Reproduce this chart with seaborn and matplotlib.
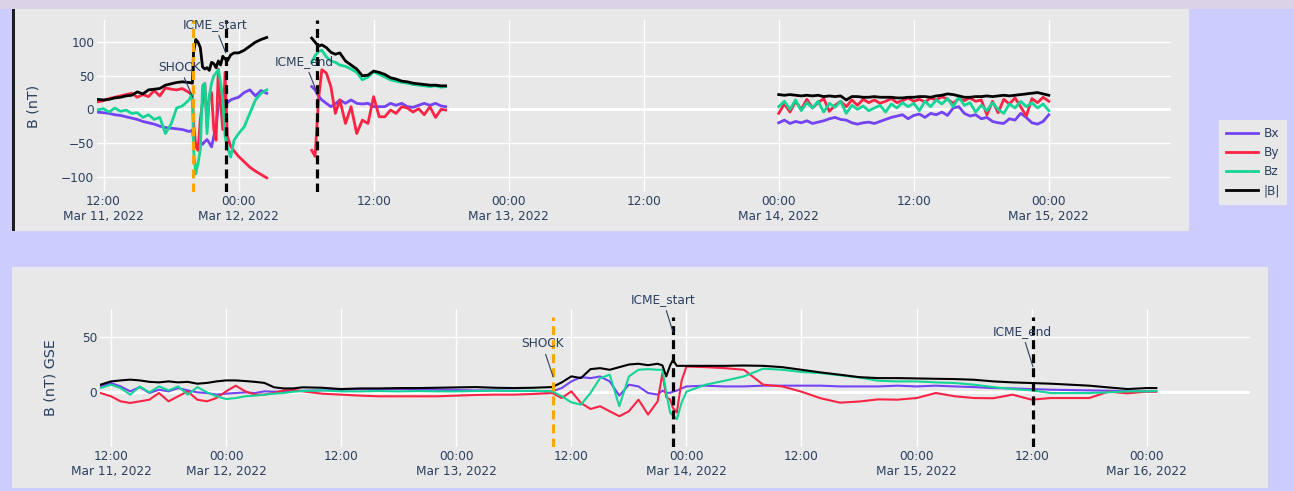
import numpy as np
import pandas as pd
import matplotlib
matplotlib.use('Agg')
import matplotlib.pyplot as plt
import matplotlib.dates as mdates
from matplotlib.patches import Rectangle
from matplotlib.lines import Line2D
from matplotlib.ticker import FixedLocator, FuncFormatter
import seaborn as sns

# ---------------- data ----------------
T0 = pd.Timestamp('2022-03-11 12:00')   # hours below are counted from here
components = ['Bx', 'By', 'Bz', '|B|']

# top panel: three data segments (gaps between them)
top_h1 = [-0.6, 0, 0.5, 1, 1.5, 2, 2.5, 3, 3.5, 4, 4.5, 5, 5.5, 6, 6.5, 7, 7.6,
          7.9, 8.0, 8.2, 8.4, 8.6, 8.8, 9.0, 9.2, 9.4, 9.6,
          9.8, 10.0, 10.2, 10.4, 10.6, 10.8, 11.0, 11.3, 11.6, 12.0, 12.5, 13.0, 13.5, 14.0, 14.5]
top_bx1 = [-4, -5, -6, -8, -9, -11, -13, -15, -18, -20, -22, -25, -27, -28, -29, -30, -33,
           -31, -45, -56, -50, -48, -52, -48, -45, -50, -56,
           -40, -26, 5, 14, 8, 4, 10, 14, 16, 18, 25, 29, 20, 28, 24]
top_by1 = [11, 13, 16, 18, 20, 22, 24, 18, 22, 19, 28, 20, 32, 30, 29, 31, 25,
           20, -20, -55, -61, -15, 10, 38, -25, 20, 25,
           -30, -46, 60, 10, -30, 55, -40, -55, -62, -70, -78, -86, -92, -97, -102]
top_bz1 = [-1, 1, -4, 2, -3, -1, -6, -5, -12, -8, -15, -12, -36, -22, 2, 5, 14,
           24, -60, -96, -80, -60, 35, 39, -36, 20, 39,
           50, 54, 59, 40, 14, -40, -56, -71, -46, -36, -26, -6, 14, 24, 29]
top_bt1 = [15, 14, 15, 17, 18, 20, 21, 26, 23, 29, 30, 31, 36, 38, 40, 41, 40,
           39, 85, 104, 100, 92, 63, 60, 62, 58, 70,
           68, 62, 72, 66, 79, 75, 72, 81, 84, 84, 88, 94, 100, 104, 107]

top_h2 = [18.5, 18.8, 19.1, 19.4, 19.8, 20.2, 20.6, 21.0, 21.5, 22, 22.5, 23, 23.5, 24, 24.5, 25,
          25.5, 26, 26.5, 27, 27.5, 28, 28.5, 29, 29.5, 30, 30.4]
top_bx2 = [34, 29, 20, 14, 9, 4, 8, 14, 9, 14, 9, 8, 9, 4, 4, 4, 9, 6, 9, 4, 3, 6, 9, 6, 9, 5, 4]
top_by2 = [-61, -70, 14, 59, 54, 34, -6, 14, -21, 4, -36, -16, -21, 19, -11, -11, -1, -6, 4, 2,
           -4, 1, -8, 4, -12, 0, -1]
top_bz2 = [70, 80, 86, 88, 78, 72, 70, 66, 64, 60, 55, 44, 48, 56, 52, 48, 44, 42, 40, 39, 37, 36,
           35, 34, 35, 33, 34]
top_bt2 = [106, 100, 94, 96, 92, 85, 82, 84, 72, 66, 60, 50, 51, 57, 55, 52, 47, 45, 42, 41, 39, 38,
           37, 36, 36, 35, 35]

top_h3 = [60, 60.5, 61, 61.5, 62, 62.5, 63, 63.5, 64, 64.5, 65, 65.5, 66, 66.5, 67, 67.5, 68,
          68.5, 69, 69.5, 70, 70.5, 71, 71.5, 72, 72.5, 73, 73.5, 74, 74.5, 75, 75.5, 76, 76.5,
          77, 77.5, 78, 78.5, 79, 79.5, 80, 80.5, 81, 81.5, 82, 82.5, 83, 83.5, 84]
top_bx3 = [-20, -16, -21, -18, -20, -17, -21, -19, -17, -14, -12, -15, -16, -20, -22, -20, -19,
           -21, -18, -15, -12, -10, -8, -14, -9, -7, -12, -6, -8, -4, -9, 2, 4, -6,
           -10, -8, -14, -12, -18, -20, -21, -14, -16, -6, -12, -20, -22, -18, -8]
top_by3 = [-6, 8, -4, 12, 0, 15, 2, 10, 16, -3, 6, 12, 4, 14, 6, 15, 10,
           14, 9, 12, 16, 10, 13, 17, 12, 15, 11, 17, 14, 19, 15, 9, 16, 13,
           17, 12, 14, -8, 12, -5, 15, 8, 17, 4, -10, 16, 10, 18, 12]
top_bz3 = [4, 12, 0, 14, -2, 10, 2, 12, -4, 9, 3, 12, -6, 6, 0, 5, -2,
           2, 6, -4, 8, 2, 10, 4, 9, -2, 12, 4, 14, 8, 16, 4, 18, 6,
           10, -4, 6, -2, 10, 0, -6, 8, 2, 12, 4, 10, 2, 8, -2]
top_bt3 = [22, 21, 22, 21, 20, 21, 20, 21, 19, 20, 19, 20, 14, 19, 19, 18, 18,
           19, 18, 18, 18, 17, 17, 18, 18, 19, 19, 18, 20, 21, 23, 22, 20, 18,
           18, 19, 19, 20, 19, 20, 21, 20, 21, 22, 23, 24, 25, 23, 21]

# bottom panel (GSE)
bot_h = [-1.1, 0, 1, 2, 3, 4, 5, 6, 7, 8, 9, 10, 11, 12, 13, 14, 15, 16, 17, 18, 19, 20,
         22, 24, 26, 28, 30, 32, 34, 36, 38, 40, 42, 44, 46,
         47, 48, 49, 50, 51, 52, 53, 54, 55, 56, 57,
         57.5, 57.9, 58.3, 58.6, 59.0, 59.5, 60,
         62, 64, 66, 68, 70, 72, 74, 76, 78, 80, 82, 84, 86, 88, 90, 92, 94, 96, 98, 100, 102,
         104, 106, 108, 109]
bot_bx = [4.8, 7.9, 4.8, 0.3, 4.2, -1.2, 1.8, 0.3, 3.3, 1.2, -0.6, -1.2, -2.7, -1.8, -1.2, -0.6,
          -1.2, 0.3, 0, 0.3, 0.6, 0.9,
          1.2, 1.8, 2.4, 2.4, 2.4, 2.1, 1.8, 1.5, 1.2, 1.2, 0.9, 0.6, 0.3,
          3.3, 9.4, 13.3, 12.4, 13.9, 9.4, -3.6, 6.4, 4.8, -1.2, -2.7,
          1, -1, -1, 0, 1, 3, 4.8,
          5.5, 4.8, 4.8, 5.5, 5.5, 5.5, 5.5, 4.8, 4.8, 4.8, 5.5, 4.8, 5.5, 4.8, 4.2, 3.3, 3, 2.4,
          1.8, 1.5, 1.2, 0.9, 0.3, 0.3,
          0.3]
bot_by = [-1.2, -4.2, -8.8, -10.3, -8.8, -7.3, -1.2, -8.8, -4.2, 0.3, -7.3, -8.8, -5.8, 0.3, 5.5,
          0.3, -2.7, -2.7, -1.2, 1.2, 1.8, 0.3,
          -1.8, -2.7, -3.6, -4.2, -4.2, -4.2, -4.2, -3.6, -3, -2.7, -2.7, -2.1, -1.2,
          -5.8, 0.3, -10.3, -15.8, -13.3, -17.9, -22.4, -17.9, -7.3, -20.9, -8.8,
          17, -5, -7, -15, -19, 10, 23,
          22.4, 21.5, 20, 6.4, 4.8, 0, -6, -10, -9, -7, -7.3, -5.8, -1.2, -4.2, -5.8, -6, -2.7,
          -7.3, -5.8, -5.8, -5.8, 0, -1.5, 0,
          0]
bot_bz = [3.3, 6.4, 3.3, -2.7, 4.8, -0.6, 4.8, 1.2, 4.8, -2.7, 4.2, -0.6, -4.2, -6.7, -5.8, -4.2,
          -3.6, -2.7, -1.8, -1.2, 0, 0.6,
          1.2, 0.3, 0.3, 0.6, 0.3, 0.6, 0.3, 0.3, 0.6, 0.9, 0.6, 0.9, 0.3,
          -4.2, -9.7, -11.8, -1.2, 12.4, 15.5, -13.3, 13.9, 20, 20.6, 20,
          20, -1, -19, -22, -25, -10, 0,
          6.4, 10, 14, 21, 20, 18, 17, 15, 13, 10, 9.4, 9.4, 8.5, 7.9, 6.4, 4.2, 2.4, 1.2,
          -1.2, -1.2, -1.2, -0.6, 0.3, 0.3,
          0.6]
bot_bt = [6.4, 9.4, 10.3, 11, 10.3, 9, 8.5, 9.4, 8.5, 9, 7.3, 8, 9.4, 10.3, 10.3, 9.7, 9, 8, 4,
          3, 3, 4,
          3.6, 2.4, 3, 3, 3.3, 3.3, 3.6, 3.9, 4.2, 3.6, 3.3, 3.6, 4.2,
          8.5, 14, 12.4, 20.6, 21.5, 20, 22.4, 24.8, 25.5, 24.2, 25.5,
          24, 14, 24, 29, 23.6, 23.6, 23.6,
          23.6, 23.6, 23.9, 23.6, 22.4, 20, 17.6, 15.5, 13.3, 12.4, 12.4, 12.1, 11.8, 11.5, 10.9,
          9.4, 8.5, 7.9, 7.3, 6.4, 5.5, 3.9, 2.4, 3.3,
          3.3]

# event markers
event_names = ['SHOCK', 'ICME_start', 'ICME_end']
top_event_h = [7.93, 10.86, 18.95]
top_event_anchor = [18, 84, 26]
bot_event_h = [46.1, 58.6, 96.14]
bot_event_anchor = [13.6, 54.5, 22.7]
bot_event_top = 68

top_ticks = ['2022-03-11 12:00', '2022-03-12 00:00', '2022-03-12 12:00', '2022-03-13 00:00',
             '2022-03-13 12:00', '2022-03-14 00:00', '2022-03-14 12:00', '2022-03-15 00:00']
bot_ticks = top_ticks + ['2022-03-15 12:00', '2022-03-16 00:00']


def hours_to_time(h):
    return T0 + pd.to_timedelta(np.asarray(h, dtype=float), unit='h')


# build long-form frames
rows = []
for seg, (h, bx, by, bz, bt) in enumerate([(top_h1, top_bx1, top_by1, top_bz1, top_bt1),
                                           (top_h2, top_bx2, top_by2, top_bz2, top_bt2),
                                           (top_h3, top_bx3, top_by3, top_bz3, top_bt3)]):
    for comp, vals in zip(components, [bx, by, bz, bt]):
        rows.append(pd.DataFrame({'time': hours_to_time(h), 'B': vals, 'comp': comp, 'seg': seg}))
top_df = pd.concat(rows, ignore_index=True)

bot_df = pd.concat([pd.DataFrame({'time': hours_to_time(bot_h), 'B': vals, 'comp': comp})
                    for comp, vals in zip(components, [bot_bx, bot_by, bot_bz, bot_bt])],
                   ignore_index=True)

# ---------------- style ----------------
palette = {'Bx': '#7443f4', 'By': '#fb2445', 'Bz': '#14d497', '|B|': '#000000'}
TXT = '#2a3f5f'
PANEL = '#e8e8e8'
W, H = 1294, 491

fig = plt.figure(figsize=(W / 100, H / 100), dpi=100, facecolor='#ccccff')


def rect(x0, y0, x1, y1, color):
    fig.patches.append(Rectangle((x0 / W, 1 - y1 / H), (x1 - x0) / W, (y1 - y0) / H,
                                 transform=fig.transFigure, facecolor=color, edgecolor='none',
                                 zorder=-10))


rect(0, 0, W, 9, '#dad3e8')
rect(12, 9, 1189, 231, PANEL)
rect(12, 9, 14.5, 231, '#1e1e1e')
rect(12, 267, 1268, 488, PANEL)

ax1 = fig.add_axes([97 / W, 1 - 192 / H, 1074 / W, 172 / H])
ax2 = fig.add_axes([100 / W, 1 - 447 / H, 1150 / W, 138 / H])


def fmt(x, pos):
    d = mdates.num2date(x)
    s = d.strftime('%H:%M')
    if d.hour == 0 or pos == 0:
        s += '\n' + d.strftime('%b ') + str(d.day) + d.strftime(', %Y')
    return s


def style(ax, ticks):
    ax.set_facecolor(PANEL)
    for s in ax.spines.values():
        s.set_visible(False)
    ax.grid(True, color='white', lw=1)
    ax.set_axisbelow(True)
    ax.axhline(0, color='white', lw=2.2, zorder=1.2)
    ax.tick_params(length=0, labelsize=8.7, labelcolor=TXT, pad=2)
    ax.xaxis.set_major_locator(FixedLocator(mdates.date2num(pd.to_datetime(ticks))))
    ax.xaxis.set_major_formatter(FuncFormatter(fmt))
    ax.set_xlabel('')


sns.lineplot(data=top_df, x='time', y='B', hue='comp', units='seg', estimator=None,
             hue_order=components, palette=palette, linewidth=2.0, legend=False, sort=False,
             ax=ax1)
sns.lineplot(data=bot_df, x='time', y='B', hue='comp', estimator=None,
             hue_order=components, palette=palette, linewidth=1.5, legend=False, sort=False,
             ax=ax2)

style(ax1, top_ticks)
style(ax2, bot_ticks)

ax1.set_xlim(hours_to_time([-0.58])[0], hours_to_time([94.86])[0])
ax1.set_ylim(-123, 133)
ax1.set_yticks([-100, -50, 0, 50, 100])
ax2.set_xlim(hours_to_time([-1.15])[0], hours_to_time([118.77])[0])
ax2.set_ylim(-50.5, 75.5)
ax2.set_yticks([0, 50])

ax1.set_ylabel('B (nT)', fontsize=10.3, color=TXT)
ax1.yaxis.set_label_coords((40 - 97) / 1074, 0.5)
ax2.set_ylabel('B (nT) GSE', fontsize=10.3, color=TXT)
ax2.yaxis.set_label_coords((57 - 100) / 1150, 0.5)

ev_colors = ['#ffa500', 'black', 'black']
dash = (0, (2.8, 1.6))
top_off = [(-13, 30), (-11, 28), (-12, 30)]
bot_off = [(-11, 33), (-10, 32), (-11, 35)]
for name, h, a, c, off in zip(event_names, top_event_h, top_event_anchor, ev_colors, top_off):
    t = hours_to_time([h])[0]
    ax1.axvline(t, color=c, lw=2.3, ls=dash, zorder=3)
    ax1.annotate(name, xy=(t, a), xytext=off, textcoords='offset pixels', ha='center',
                 va='center', fontsize=8.7, color=TXT, zorder=5,
                 arrowprops=dict(arrowstyle='-', color=TXT, lw=0.8, shrinkA=1, shrinkB=0))
for name, h, a, c, off in zip(event_names, bot_event_h, bot_event_anchor, ev_colors, bot_off):
    t = hours_to_time([h])[0]
    ax2.vlines(t, -50.5, bot_event_top, color=c, lw=2.3, linestyles=dash, zorder=3)
    ax2.annotate(name, xy=(t, a), xytext=off, textcoords='offset pixels', ha='center',
                 va='center', fontsize=8.7, color=TXT, zorder=5,
                 arrowprops=dict(arrowstyle='-', color=TXT, lw=0.8, shrinkA=1, shrinkB=0))

handles = [Line2D([], [], color=palette[c], lw=2) for c in components]
leg = fig.legend(handles, components, loc='upper left', bbox_to_anchor=(1219 / W, 1 - 120 / H),
                 frameon=True, facecolor=PANEL, edgecolor='none', fancybox=False, framealpha=1,
                 fontsize=8.7, handlelength=2.6, labelspacing=0.5, borderpad=0.6,
                 handletextpad=0.5, labelcolor=TXT, borderaxespad=0)

fig.savefig('out.png', dpi=100, facecolor=fig.get_facecolor())
